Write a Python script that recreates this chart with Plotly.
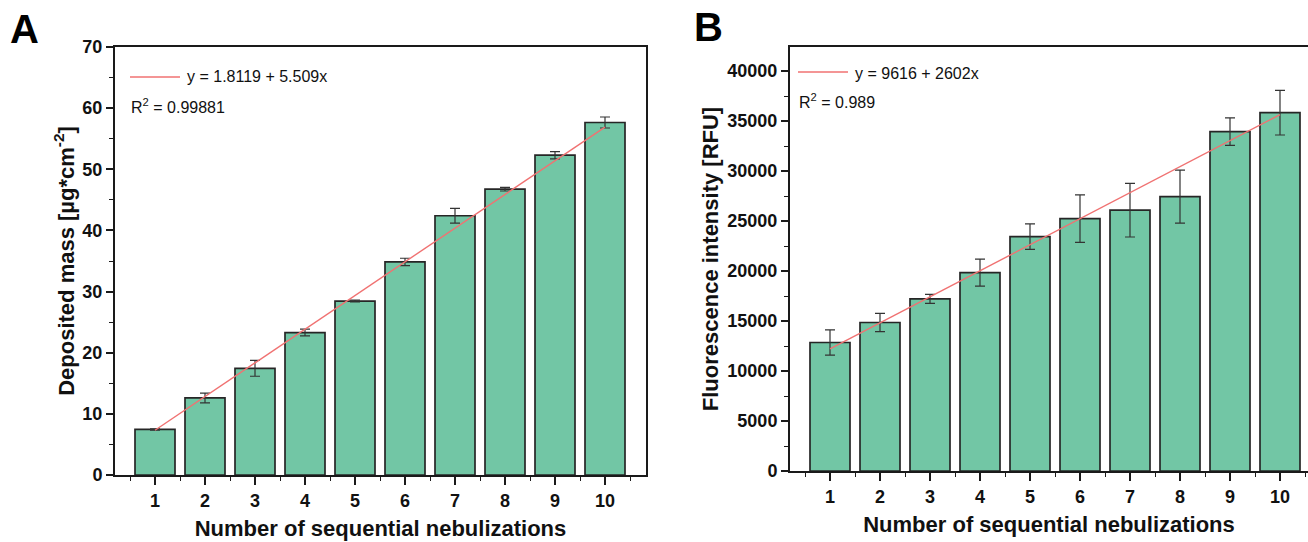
import plotly.graph_objects as go

# ---------------- data ----------------
nebulizations = [1, 2, 3, 4, 5, 6, 7, 8, 9, 10]
tick_labels = ["1", "2", "3", "4", "5", "6", "7", "8", "9", "10"]

mass = [7.45, 12.6, 17.45, 23.3, 28.45, 34.85, 42.4, 46.75, 52.3, 57.65]
mass_err = [0.1, 0.8, 1.3, 0.55, 0.15, 0.6, 1.2, 0.3, 0.6, 0.9]

fluor = [12850, 14850, 17220, 19840, 23440, 25240, 26080, 27440, 33940, 35830]
fluor_err = [1270, 920, 450, 1350, 1270, 2370, 2680, 2650, 1370, 2230]

fit_x = [1, 10]
fit_mass = [7.3209, 56.9019]      # y = 1.8119 + 5.509x
fit_fluor = [12218, 35636]        # y = 9616 + 2602x

fit_a_text = "y = 1.8119 + 5.509x"
fit_a_r2 = "R<sup>2</sup> = 0.99881"
fit_b_text = "y = 9616 + 2602x"
fit_b_r2 = "R<sup>2</sup> = 0.989"

# ---------------- style ----------------
BAR = "#72C6A5"
EDGE = "#262626"
FIT = "#F07272"
AXC = "#1a1a1a"
FONT = "Arial, Liberation Sans, sans-serif"
W, H = 1308, 542

fig = go.Figure()

fig.add_trace(go.Bar(
    x=nebulizations, y=mass, width=0.8,
    marker=dict(color=BAR, line=dict(color=EDGE, width=1.7)),
    error_y=dict(type="data", array=mass_err, color="#333333", thickness=1.2, width=5),
    xaxis="x", yaxis="y", showlegend=False))
fig.add_trace(go.Scatter(
    x=fit_x, y=fit_mass, mode="lines", line=dict(color=FIT, width=1.4),
    xaxis="x", yaxis="y", showlegend=False))

fig.add_trace(go.Bar(
    x=nebulizations, y=fluor, width=0.8,
    marker=dict(color=BAR, line=dict(color=EDGE, width=1.7)),
    error_y=dict(type="data", array=fluor_err, color="#333333", thickness=1.2, width=5),
    xaxis="x2", yaxis="y2", showlegend=False))
fig.add_trace(go.Scatter(
    x=fit_x, y=fit_fluor, mode="lines", line=dict(color=FIT, width=1.4),
    xaxis="x2", yaxis="y2", showlegend=False))

def px_x(p):
    return p / W

def px_y(p):
    return 1 - p / H

xtitle = dict(text="Number of sequential nebulizations",
              font=dict(family=FONT, size=22, color="#111", weight="bold"), standoff=11)

common_x = dict(
    tickmode="array", tickvals=nebulizations, ticktext=tick_labels,
    ticks="outside", ticklen=8, tickwidth=1.6, tickcolor=AXC,
    minor=dict(ticks="outside", ticklen=4, tickwidth=1.4, tickcolor=AXC, dtick=0.5, tick0=0.5),
    showline=True, linewidth=2, linecolor=AXC, showgrid=False, zeroline=False,
    tickfont=dict(family=FONT, size=18, color="#111", weight="bold"),
    title=xtitle, fixedrange=True, automargin=False)

common_y = dict(
    ticks="outside", ticklen=7, tickwidth=1.6, tickcolor=AXC,
    showline=True, linewidth=2, linecolor=AXC, showgrid=False, zeroline=False,
    tickfont=dict(family=FONT, size=18, color="#111", weight="bold"),
    tickformat="d", fixedrange=True, automargin=False)

fig.update_layout(
    template="none",
    width=W, height=H, autosize=False,
    margin=dict(l=0, r=0, t=0, b=0, pad=0),
    paper_bgcolor="white", plot_bgcolor="white",
    bargap=0.2,
    xaxis=dict(domain=[px_x(115), px_x(646)], range=[0.2, 10.82], anchor="y",
               mirror=True, **common_x),
    yaxis=dict(domain=[px_y(475), px_y(47)], range=[0, 70], anchor="x",
               tickmode="linear", tick0=0, dtick=10,
               minor=dict(ticks="outside", ticklen=4, tickwidth=1.4, tickcolor=AXC, dtick=5),
               mirror=True,
               title=dict(text="Deposited mass [µg*cm<sup>-2</sup>]",
                          font=dict(family=FONT, size=22, color="#111", weight="bold"), standoff=2),
               **common_y),
    xaxis2=dict(domain=[px_x(790), 1.0], range=[0.2, 10.56], anchor="y2",
                mirror=True, **common_x),
    yaxis2=dict(domain=[px_y(471), px_y(47)], range=[0, 42400], anchor="x2",
                tickmode="linear", tick0=0, dtick=5000,
                minor=dict(ticks="outside", ticklen=4, tickwidth=1.4, tickcolor=AXC, dtick=2500),
                mirror=False,
                title=dict(text="Fluorescence intensity [RFU]",
                           font=dict(family=FONT, size=22, color="#111", weight="bold"), standoff=3),
                **common_y),
)

# legend keys (lines) and texts
shapes = [
    dict(type="line", xref="paper", yref="paper",
         x0=px_x(130), x1=px_x(180), y0=px_y(77), y1=px_y(77),
         line=dict(color=FIT, width=1.4)),
    dict(type="line", xref="paper", yref="paper",
         x0=px_x(798), x1=px_x(848), y0=px_y(72), y1=px_y(72),
         line=dict(color=FIT, width=1.4)),
]
fig.update_layout(shapes=shapes)

lf = dict(family=FONT, size=16, color="#111")
annotations = [
    dict(text=fit_a_text, x=px_x(185), y=px_y(77), xref="paper", yref="paper",
         xanchor="left", yanchor="middle", showarrow=False, font=lf),
    dict(text=fit_a_r2, x=px_x(129), y=px_y(106), xref="paper", yref="paper",
         xanchor="left", yanchor="middle", showarrow=False, font=lf),
    dict(text=fit_b_text, x=px_x(853), y=px_y(73), xref="paper", yref="paper",
         xanchor="left", yanchor="middle", showarrow=False, font=lf),
    dict(text=fit_b_r2, x=px_x(797), y=px_y(101), xref="paper", yref="paper",
         xanchor="left", yanchor="middle", showarrow=False, font=lf),
    dict(text="A", x=px_x(24), y=px_y(29), xref="paper", yref="paper",
         xanchor="center", yanchor="middle", showarrow=False,
         font=dict(family=FONT, size=40, color="#000", weight="bold")),
    dict(text="B", x=px_x(708), y=px_y(27), xref="paper", yref="paper",
         xanchor="center", yanchor="middle", showarrow=False,
         font=dict(family=FONT, size=40, color="#000", weight="bold")),
]
fig.update_layout(annotations=annotations)

fig.write_html("out.html", config={"displayModeBar": False},
               post_script="document.body.style.margin='0';document.body.style.overflow='hidden';")
